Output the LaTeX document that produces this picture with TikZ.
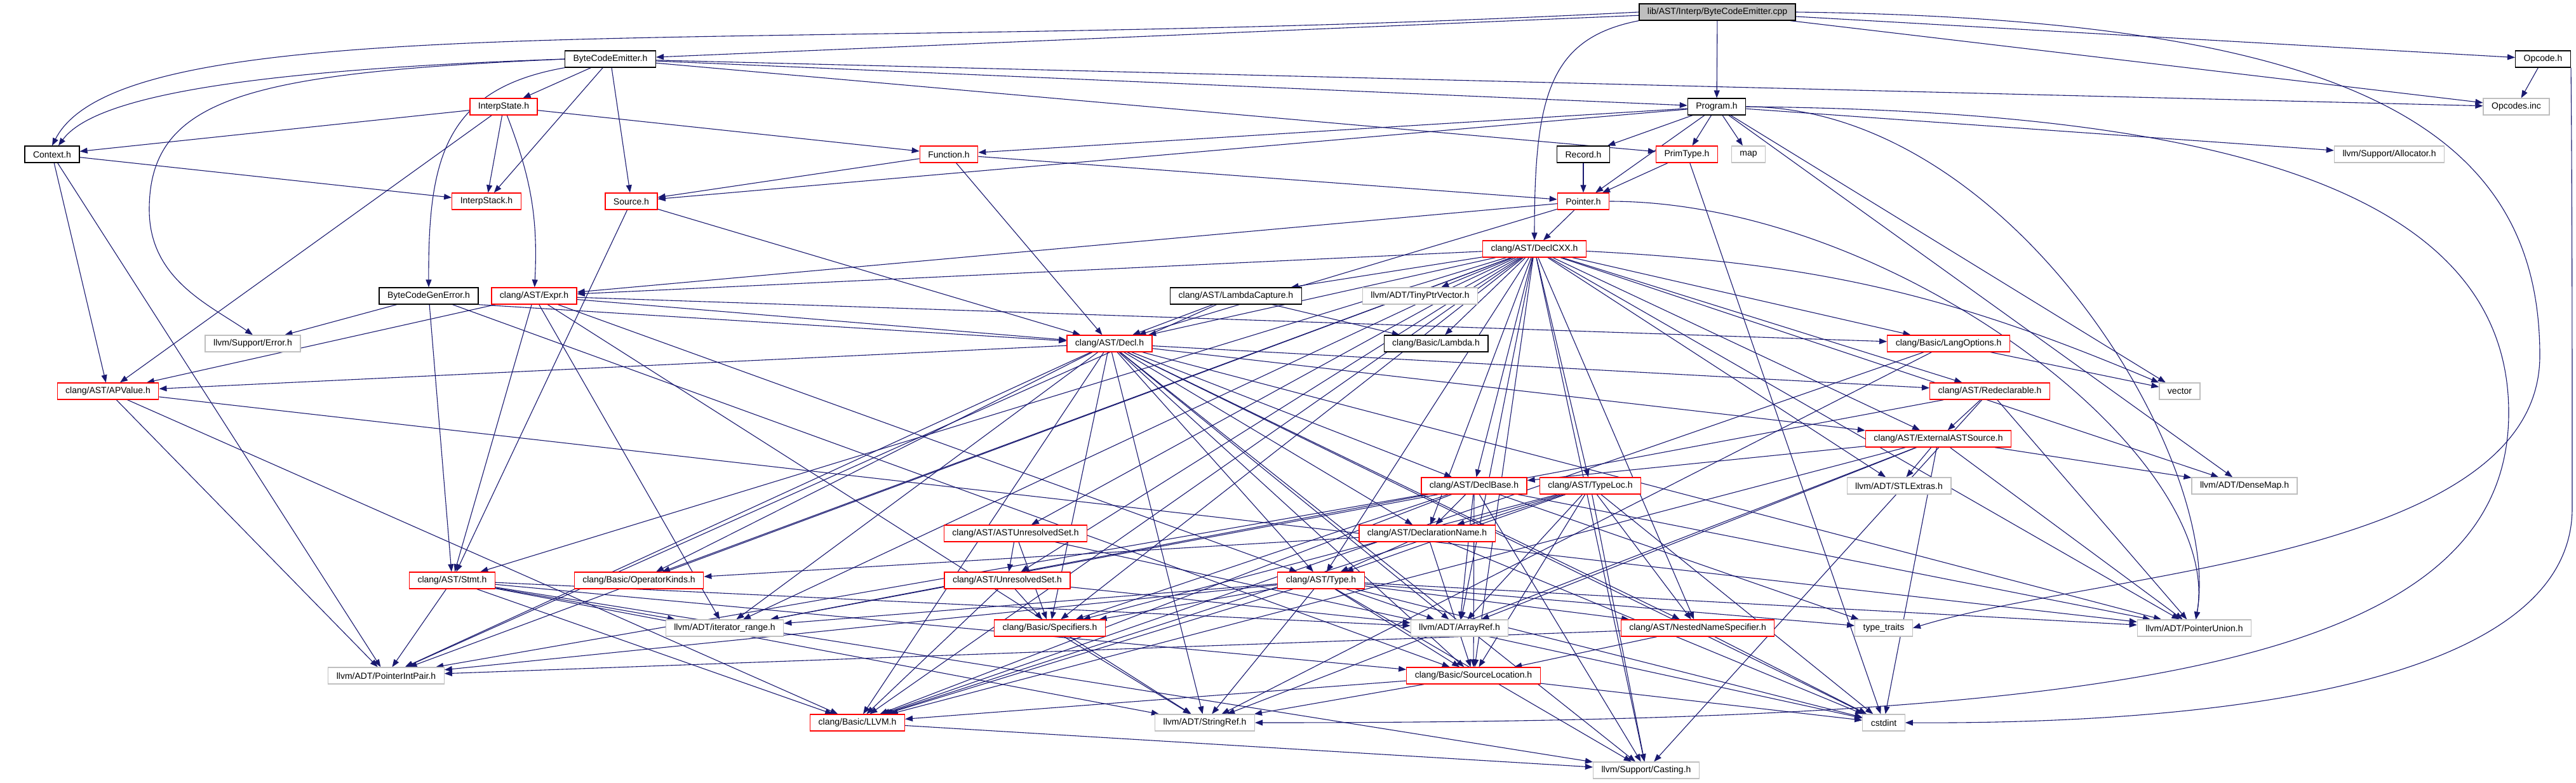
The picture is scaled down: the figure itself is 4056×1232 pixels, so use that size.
\documentclass[tikz,border=0pt]{standalone}
\usepackage{fontspec}
\setmainfont{Liberation Sans}
\usetikzlibrary{arrows.meta, backgrounds}
\definecolor{edgeblue}{HTML}{191970}
\definecolor{boxgrey}{HTML}{BFBFBF}
\definecolor{boxred}{HTML}{FF0000}

\tikzset{
  hdr/.style={draw=black, fill=white, line width=1.3pt, minimum height=26pt,
    inner xsep=13pt, inner ysep=0pt, font=\fontsize{14}{16}\selectfont},
  hdrred/.style={hdr, draw=boxred},
  hdrext/.style={hdr, draw=boxgrey},
  hdrroot/.style={hdr, fill=boxgrey},
  dep/.style={draw=edgeblue, line width=1.1pt, -{Triangle[length=12pt,width=9pt]}},
  swing/.style={out=0, in=80, in looseness=0.6}
}

\begin{document}
\begin{tikzpicture}[x=1pt, y=-1pt]
  \useasboundingbox (0,0) rectangle (4056,1232);
  \node[hdrroot] (cpp) at (2704,19) {lib/AST/Interp/ByteCodeEmitter.cpp};
  \node[hdr] (bce) at (961,93) {ByteCodeEmitter.h};
  \node[hdr] (opcode) at (4004,93) {Opcode.h};
  \node[hdrred] (istate) at (793,168) {InterpState.h};
  \node[hdr] (program) at (2703,168) {Program.h};
  \node[hdrext] (opcodes) at (3962,168) {Opcodes.inc};
  \node[hdr] (context) at (82,243) {Context.h};
  \node[hdrred] (function) at (1494,243) {Function.h};
  \node[hdr] (record) at (2493,243) {Record.h};
  \node[hdrred] (primtype) at (2656,243) {PrimType.h};
  \node[hdrext] (map) at (2753,243) {map};
  \node[hdrext] (alloc) at (3762,243) {llvm/Support/Allocator.h};
  \node[hdrred] (istack) at (766,317) {InterpStack.h};
  \node[hdrred] (source) at (994,317) {Source.h};
  \node[hdrred] (pointer) at (2493,317) {Pointer.h};
  \node[hdrred] (declcxx) at (2416,392) {clang/AST/DeclCXX.h};
  \node[hdr] (bcgenerr) at (675,466) {ByteCodeGenError.h};
  \node[hdrred] (expr) at (841,466) {clang/AST/Expr.h};
  \node[hdr] (lcapture) at (1946,466) {clang/AST/LambdaCapture.h};
  \node[hdrext] (tinyptr) at (2236,466) {llvm/ADT/TinyPtrVector.h};
  \node[hdrext] (error) at (398,541) {llvm/Support/Error.h};
  \node[hdrred] (decl) at (1747,541) {clang/AST/Decl.h};
  \node[hdr] (lambda) at (2261,541) {clang/Basic/Lambda.h};
  \node[hdrred] (langopts) at (3068,541) {clang/Basic/LangOptions.h};
  \node[hdrred] (apvalue) at (170,616) {clang/AST/APValue.h};
  \node[hdrred] (redecl) at (3133,616) {clang/AST/Redeclarable.h};
  \node[hdrext] (vector) at (3432,616) {vector};
  \node[hdrred] (extsrc) at (3052,691) {clang/AST/ExternalASTSource.h};
  \node[hdrred] (declbase) at (2321,765) {clang/AST/DeclBase.h};
  \node[hdrred] (typeloc) at (2504,765) {clang/AST/TypeLoc.h};
  \node[hdrext] (stlextras) at (2990,765) {llvm/ADT/STLExtras.h};
  \node[hdrext] (densemap) at (3534,765) {llvm/ADT/DenseMap.h};
  \node[hdrred] (astunres) at (1599,840) {clang/AST/ASTUnresolvedSet.h};
  \node[hdrred] (declname) at (2247,840) {clang/AST/DeclarationName.h};
  \node[hdrred] (stmt) at (712,914) {clang/AST/Stmt.h};
  \node[hdrred] (opkinds) at (1006,914) {clang/Basic/OperatorKinds.h};
  \node[hdrred] (unres) at (1586,914) {clang/AST/UnresolvedSet.h};
  \node[hdrred] (type) at (2080,914) {clang/AST/Type.h};
  \node[hdrext] (itrange) at (1141,989) {llvm/ADT/iterator\_range.h};
  \node[hdrred] (specifiers) at (1653,989) {clang/Basic/Specifiers.h};
  \node[hdrext] (arrayref) at (2298,989) {llvm/ADT/ArrayRef.h};
  \node[hdrred] (nns) at (2673,989) {clang/AST/NestedNameSpecifier.h};
  \node[hdrext] (typetraits) at (2966,989) {type\_traits};
  \node[hdrext] (ptrunion) at (3455,989) {llvm/ADT/PointerUnion.h};
  \node[hdrext] (ptrintpair) at (608,1064) {llvm/ADT/PointerIntPair.h};
  \node[hdrred] (srcloc) at (2320,1064) {clang/Basic/SourceLocation.h};
  \node[hdrred] (llvmh) at (1350,1138) {clang/Basic/LLVM.h};
  \node[hdrext] (stringref) at (1897,1138) {llvm/ADT/StringRef.h};
  \node[hdrext] (cstdint) at (2966,1138) {cstdint};
  \node[hdrext] (casting) at (2592,1213) {llvm/Support/Casting.h};

  \begin{pgfonlayer}{background}
    \fill[white] (0,0) rectangle (4056,1232);
    \foreach \t in {bce,opcode,program,opcodes}
      \draw[dep] (cpp) -- (\t);
    \draw[dep] (cpp.west) .. controls (1200,90) and (200,0) .. (context.north);
    \draw[dep] (cpp.south west) .. controls (2440,60) and (2416,150) .. (declcxx.north);
    \draw[dep] (cpp.east) .. controls (3700,30) and (3999,200) .. (3999,560)
      .. controls (3999,880) and (3300,900) .. (typetraits.east);
    \foreach \t in {istate,istack,source,program,primtype,opcodes}
      \draw[dep] (bce) -- (\t);
    \draw[dep] (bce.west) .. controls (400,110) and (150,150) .. ([xshift=10pt]context.north);
    \draw[dep] (bce.west) .. controls (400,115) and (235,150) .. (235,330)
      .. controls (235,440) and (330,480) .. (error.north);
    \draw[dep] (bce.south west) .. controls (700,140) and (674,250) .. (bcgenerr.north);
    \draw[dep] (opcode) -- (opcodes);
    \draw[dep] (opcode.south east) .. controls (4050,300) and (4050,600) .. (4050,800)
      .. controls (4050,1100) and (3400,1140) .. (cstdint.east);
    \foreach \t in {context,function,istack,apvalue}
      \draw[dep] (istate) -- (\t);
    \draw[dep] (istate) to[bend left=12] (expr);
    \foreach \t in {istack,apvalue,ptrintpair}
      \draw[dep] (context) -- (\t);
    \foreach \t in {pointer,source,decl}
      \draw[dep] (function) -- (\t);
    \foreach \t in {decl,stmt}
      \draw[dep] (source) -- (\t);
    \foreach \t in {function,source,record,primtype,map,pointer,alloc,vector,densemap}
      \draw[dep] (program) -- (\t);
    \draw[dep] (program) to[swing] (ptrunion);
    \draw[dep] (program.east) .. controls (3500,175) and (3950,300) .. (3950,650)
      .. controls (3950,1060) and (3300,1138) .. (stringref.east);
    \draw[dep] (record) -- (pointer);
    \foreach \t in {pointer,cstdint}
      \draw[dep] (primtype) -- (\t);
    \foreach \t in {declcxx,decl,expr}
      \draw[dep] (pointer) -- (\t);
    \draw[dep] (pointer) to[swing] (ptrunion);
    \draw[dep] (bcgenerr.south east) -- (decl);
    \foreach \t in {stmt,srcloc,error}
      \draw[dep] (bcgenerr) -- (\t);
    \foreach \t in {apvalue,decl,stmt,type,langopts,itrange,stringref}
      \draw[dep] (expr) -- (\t);
    \foreach \t in {astunres,decl,declbase,declname,expr,extsrc,lcapture,nns,redecl,
        stmt,type,typeloc,unres,llvmh,lambda,langopts,opkinds,srcloc,specifiers,
        arrayref,densemap,ptrintpair,ptrunion,stlextras,tinyptr,itrange,casting}
      \draw[dep] (declcxx) -- (\t);
    \draw[dep] (declcxx) to[bend left=10] (vector);
    \foreach \t in {decl,lambda,ptrintpair}
      \draw[dep] (lcapture) -- (\t);
    \foreach \t in {apvalue,declbase,declname,extsrc,nns,redecl,type,llvmh,opkinds,
        srcloc,specifiers,arrayref,ptrintpair,ptrunion,stringref,itrange,casting,cstdint}
      \draw[dep] (decl) -- (\t);
    \foreach \t in {llvmh,stringref,vector}
      \draw[dep] (langopts) -- (\t);
    \foreach \t in {llvmh,ptrintpair,ptrunion}
      \draw[dep] (apvalue) -- (\t);
    \foreach \t in {extsrc,ptrunion,itrange,casting}
      \draw[dep] (redecl) -- (\t);
    \foreach \t in {declbase,llvmh,arrayref,densemap,ptrunion,stlextras,stringref,cstdint}
      \draw[dep] (extsrc) -- (\t);
    \foreach \t in {declname,llvmh,srcloc,specifiers,arrayref,ptrintpair,ptrunion,
        itrange,casting,typetraits}
      \draw[dep] (declbase) -- (\t);
    \foreach \t in {declname,nns,type,llvmh,srcloc,specifiers,arrayref,casting,cstdint}
      \draw[dep] (typeloc) -- (\t);
    \foreach \t in {unres,specifiers,cstdint}
      \draw[dep] (astunres) -- (\t);
    \foreach \t in {type,opkinds,srcloc,cstdint}
      \draw[dep] (declname) -- (\t);
    \foreach \t in {llvmh,srcloc,arrayref,ptrintpair,stringref,itrange,casting}
      \draw[dep] (stmt) -- (\t);
    \foreach \t in {llvmh,specifiers,arrayref}
      \draw[dep] (unres) -- (\t);
    \foreach \t in {nns,llvmh,srcloc,specifiers,arrayref,ptrintpair,ptrunion,stringref,
        itrange,casting,cstdint,typetraits}
      \draw[dep] (type) -- (\t);
    \foreach \t in {srcloc,ptrintpair,cstdint}
      \draw[dep] (nns) -- (\t);
    \draw[dep] (specifiers) -- (stringref);
    \foreach \t in {llvmh,stringref,cstdint}
      \draw[dep] (srcloc) -- (\t);
    \draw[dep] (llvmh) -- (casting);
  \end{pgfonlayer}
\end{tikzpicture}
\end{document}
